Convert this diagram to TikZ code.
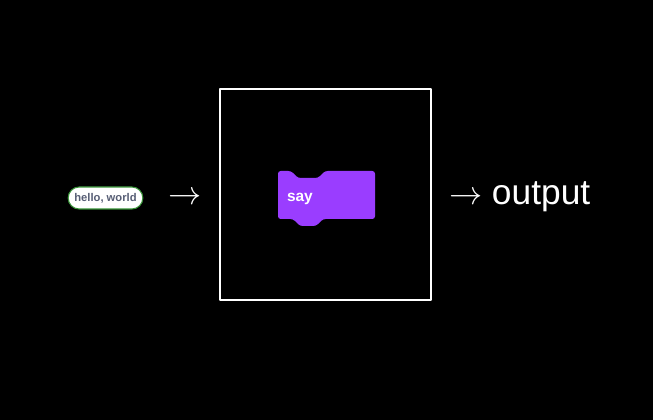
\documentclass[tikz,border=0pt]{standalone}
\usepackage{fontspec}
\setmainfont{Liberation Sans}
\definecolor{looks}{HTML}{9A3DFF}
\definecolor{inktext}{HTML}{575E75}
\definecolor{opgreen}{HTML}{389438}

\begin{document}
\begin{tikzpicture}[x=0.75pt, y=-0.75pt, line join=round]

   \fill[black] (0,0) rectangle (653,420);
   \useasboundingbox (0,0) rectangle (653,420);

   % the function box
   \draw[white, line width=2.1pt] (220,89) rectangle (431,300);
   \coordinate (box) at (325.5,194.5);

   % say block
   \fill[looks, rounded corners=2pt] (278,171) -- (291,171) -- (298,178) -- (318,178) -- (325,171)
      -- (375,171) -- (375,219) -- (323,219) -- (316,226) -- (300,226) -- (293,219) -- (278,219) -- cycle;

   \begin{scope}[every node/.style={inner sep=0pt, outer sep=0pt}]
    \node[anchor=base west, text=white, font=\fontsize{11.6}{13}\selectfont\bfseries] (say) at (287,201.5) {say};
    \node[draw=opgreen, fill=white, line width=0.8pt, rounded corners=8.2pt, minimum width=56pt, minimum height=16.5pt,
          text=inktext, font=\fontsize{8.4}{10}\selectfont\bfseries] (hello) at (105.5,198) {hello, world};
    \node[anchor=base, text=white, font=\fontsize{25.5}{30}\selectfont] (arrowin) at (185,205) {$\rightarrow$};
    \node[anchor=base west, text=white, font=\fontsize{26.5}{30}\selectfont] (output) at (449,205) {$\rightarrow$ output};
   \end{scope}

\end{tikzpicture}
\end{document}
